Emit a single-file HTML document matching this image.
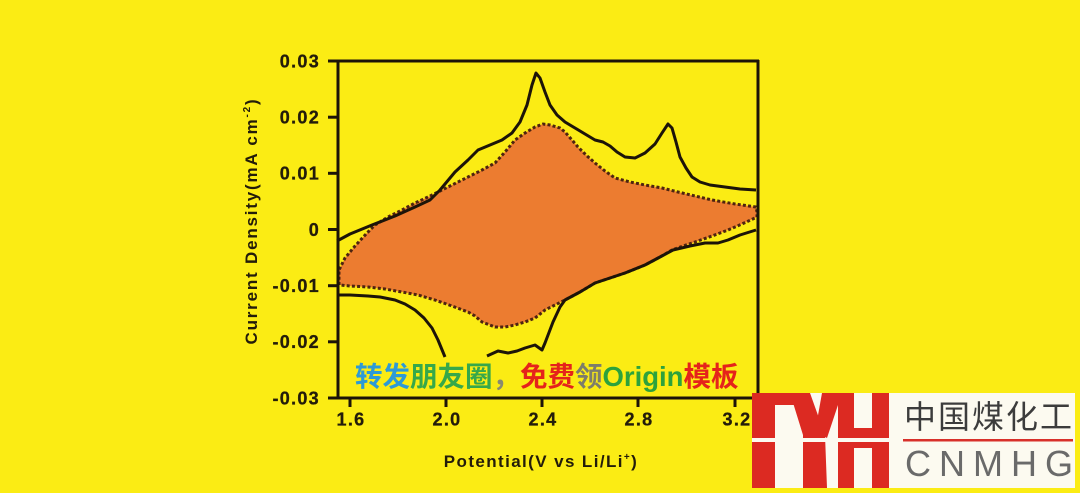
<!DOCTYPE html>
<html>
<head>
<meta charset="utf-8">
<style>
html,body{margin:0;padding:0;background:#FBEC14;}
svg{display:block;}
</style>
</head>
<body>
<svg width="1080" height="493" viewBox="0 0 1080 493" xmlns="http://www.w3.org/2000/svg">
  <rect x="0" y="0" width="1080" height="493" fill="#FBEC14"/>

  <!-- orange filled region -->
  <polygon fill="#EC7C30" points="339,270 345,258 355,246 367,233 375,225 388,217 400,211 415,203 428,197 438,192 452,185 468,177 482,170 495,163 505,152 515,140 525,133 535,127 543,124 550,125 560,128 565,132 572,140 578,147 586,155 595,163 605,171 615,178 630,182 645,185 662,188 678,192 695,196 712,200 735,204 756,207 757,212 757,217 742,224 728,230 712,236 695,242 683,246 672,250 660,257 645,265 625,273 610,278 595,283 580,292 565,300 555,305 545,310 535,318 525,322 515,325 505,327 495,327 482,322 475,316 468,312 452,306 435,300 418,295 402,292 385,289 368,287 350,286 340,285 339,278"/>

  <!-- dotted boundary -->
  <polyline fill="none" stroke="#4E2410" stroke-width="3" stroke-dasharray="3 2.2" points="339,285 339,278 339,270 345,258 355,246 367,233 375,225 388,217 400,211 415,203 428,197 438,192 452,185 468,177 482,170 495,163 505,152 515,140 525,133 535,127 543,124 550,125 560,128 565,132 572,140 578,147 586,155 595,163 605,171 615,178 630,182 645,185 662,188 678,192 695,196 712,200 735,204 756,207 757,212 757,217 742,224 728,230 712,236 695,242 683,246 672,250 660,257 645,265 625,273 610,278 595,283 580,292 565,300 555,305 545,310 535,318 525,322 515,325 505,327 495,327 482,322 475,316 468,312 452,306 435,300 418,295 402,292 385,289 368,287 350,286 340,285"/>

  <!-- solid CV curve: oxidation -->
  <polyline fill="none" stroke="#1C1408" stroke-width="3" stroke-linejoin="round" points="337,241 350,234 372,225 395,216 415,207 430,200 440,190 455,172 468,160 478,150 490,145 502,140 512,133 520,122 527,105 532,85 536,73 540,78 545,92 550,105 557,115 565,122 575,128 585,134 595,140 603,142 610,146 617,152 625,157 635,158 645,153 655,144 662,133 668,124 672,128 676,142 680,157 686,168 692,177 700,182 710,185 725,187 740,189 756,190"/>
  <!-- solid CV curve: reduction -->
  <polyline fill="none" stroke="#1C1408" stroke-width="3" stroke-linejoin="round" points="756,230 740,235 728,240 718,243 705,243 690,246 673,250 660,257 645,265 625,273 610,278 595,283 580,292 565,300 560,307 553,322 545,343 542,350 535,345 525,348 517,351 508,353 498,351 487,356"/>
  <polyline fill="none" stroke="#1C1408" stroke-width="3" stroke-linejoin="round" points="445,357 438,340 432,328 424,318 415,310 405,304 395,300 380,297 368,296 350,295 338,295"/>

  <!-- frame -->
  <g stroke="#1C1408" stroke-width="3" fill="none">
    <line x1="338" y1="61" x2="338" y2="399"/>
    <line x1="337" y1="61" x2="759" y2="61"/>
    <line x1="758" y1="60" x2="758" y2="395"/>
    <line x1="328" y1="398" x2="755" y2="398"/>
    <line x1="328" y1="61" x2="338" y2="61"/>
    <line x1="328" y1="117.2" x2="338" y2="117.2"/>
    <line x1="328" y1="173.3" x2="338" y2="173.3"/>
    <line x1="328" y1="229.5" x2="338" y2="229.5"/>
    <line x1="328" y1="285.7" x2="338" y2="285.7"/>
    <line x1="328" y1="341.8" x2="338" y2="341.8"/>
    <line x1="350" y1="398" x2="350" y2="407"/>
    <line x1="446" y1="398" x2="446" y2="407"/>
    <line x1="542" y1="398" x2="542" y2="407"/>
    <line x1="638" y1="398" x2="638" y2="407"/>
    <line x1="735" y1="398" x2="735" y2="407"/>
  </g>

  <!-- y tick labels -->
  <g font-family="Liberation Sans, Arial, sans-serif" font-weight="bold" font-size="18" fill="#231C0A" letter-spacing="1.3" text-anchor="end" stroke="#231C0A" stroke-width="0.3">
    <text x="320" y="67.5">0.03</text>
    <text x="320" y="123.5">0.02</text>
    <text x="320" y="179.5">0.01</text>
    <text x="320" y="236">0</text>
    <text x="320" y="292">-0.01</text>
    <text x="320" y="348">-0.02</text>
    <text x="320" y="404.5">-0.03</text>
  </g>
  <!-- x tick labels -->
  <g font-family="Liberation Sans, Arial, sans-serif" font-weight="bold" font-size="18" fill="#231C0A" letter-spacing="1.3" text-anchor="middle" stroke="#231C0A" stroke-width="0.3">
    <text x="351" y="425.5">1.6</text>
    <text x="447" y="425.5">2.0</text>
    <text x="543" y="425.5">2.4</text>
    <text x="639" y="425.5">2.8</text>
    <text x="737" y="425.5">3.2</text>
  </g>

  <!-- axis titles -->
  <text x="541" y="467" font-family="Liberation Sans, Arial, sans-serif" font-weight="bold" font-size="17" fill="#231C0A" letter-spacing="1.4" text-anchor="middle">Potential(V vs Li/Li<tspan font-size="10" dy="-7">+</tspan><tspan dy="7">)</tspan></text>
  <text transform="translate(257,221) rotate(-90)" x="0" y="0" font-family="Liberation Sans, Arial, sans-serif" font-weight="bold" font-size="17" fill="#231C0A" letter-spacing="1.8" text-anchor="middle">Current Density(mA cm<tspan font-size="10" dy="-7">-2</tspan><tspan dy="7">)</tspan></text>

  <!-- overlay promo text -->
  <text x="355" y="386" font-family="Liberation Sans, Noto Sans CJK SC, sans-serif" font-weight="bold" font-size="27.5"><tspan fill="#2D9AD6">转发</tspan><tspan fill="#36A84A">朋友圈</tspan><tspan fill="#8A8A70">，</tspan><tspan fill="#E5231B">免费</tspan><tspan fill="#7D7D6B">领</tspan><tspan fill="#2DA23C">Origin</tspan><tspan fill="#E5231B">模板</tspan></text>

  <!-- logo -->
  <rect x="752" y="393" width="323" height="95" fill="#FCFAF0"/>
  <g fill="#DC2A22">
    <rect x="752" y="393" width="23" height="95"/>
    <rect x="752" y="393" width="42" height="12"/>
    <polygon points="790,393 810,393 825,435 827,488 803,488 803,435"/>
    <polygon points="822,393 842,393 827,438 815,432"/>
    <rect x="838" y="393" width="16" height="95"/>
    <rect x="872" y="393" width="17" height="95"/>
    <rect x="852" y="428" width="22" height="20"/>
  </g>
  <rect x="752" y="438" width="138" height="4" fill="#FCFAF0"/>
  <text x="904" y="428" font-family="Noto Sans CJK SC, sans-serif" font-size="32" fill="#3C3C3C" letter-spacing="2">中国煤化工</text>
  <rect x="903" y="439" width="170" height="2.5" fill="#D8302A"/>
  <text x="905" y="476" font-family="Liberation Sans, Arial, sans-serif" font-size="36" fill="#6A6A6A" letter-spacing="8">CNMHG</text>
</svg>
</body>
</html>
